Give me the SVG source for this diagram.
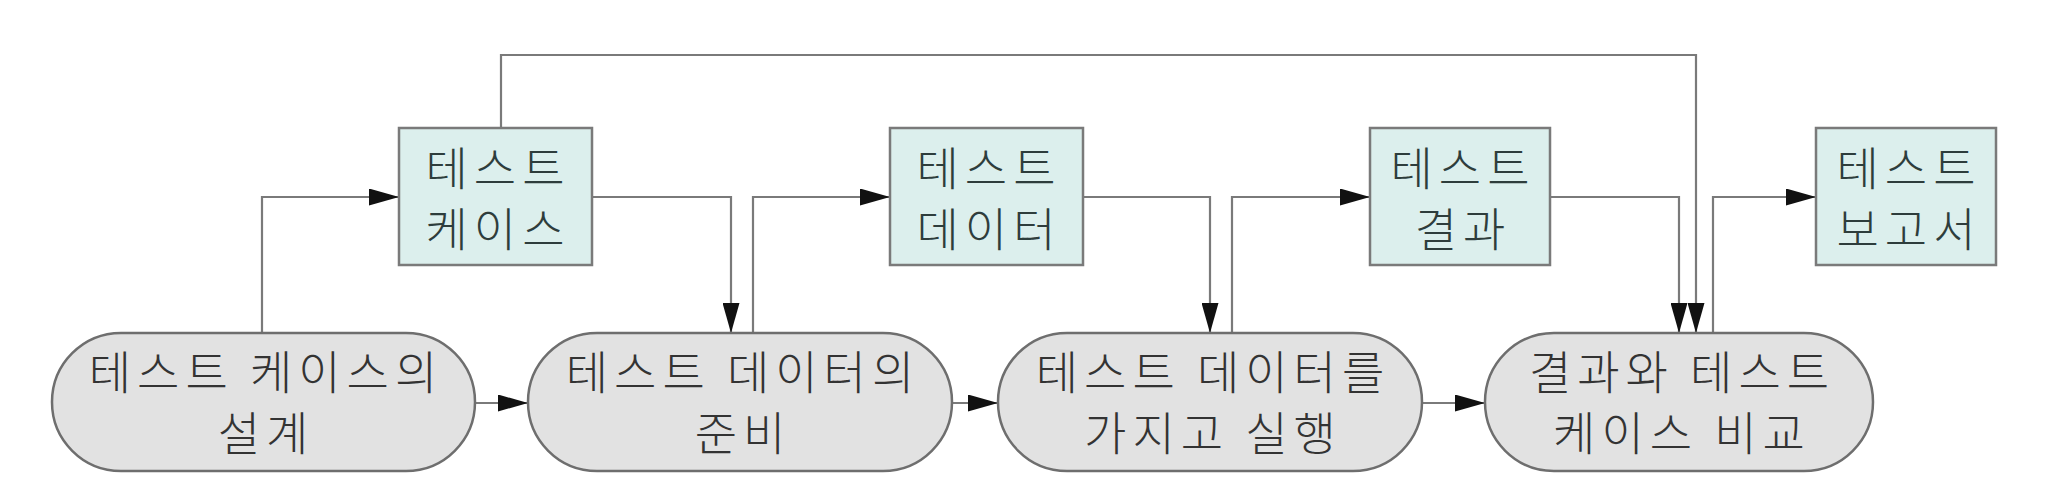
<svg xmlns="http://www.w3.org/2000/svg" width="2048" height="485" viewBox="0 0 2048 485">
<defs>
<style>
.box{fill:#dcefed;stroke:#7a7a7a;stroke-width:2.5}
.pill{fill:#e2e2e2;stroke:#6e6e6e;stroke-width:2.5}
.t{font-family:"Noto Sans CJK KR","Noto Sans",sans-serif;font-size:46px;font-weight:300;text-anchor:middle;letter-spacing:6px}
.bt{fill:#2e3d3c}
.pt{fill:#333333}
.conn path{fill:none;stroke:#7a7a7a;stroke-width:2.2;marker-end:url(#ah)}
</style>
<marker id="ah" markerUnits="userSpaceOnUse" markerWidth="30" markerHeight="17" refX="30" refY="8.5" orient="auto">
<path d="M0,0 L30,8.5 L0,17 z" fill="#111111"/>
</marker>
</defs>
<rect width="2048" height="485" fill="#ffffff"/>
<g class="conn" id="connectors">
<path d="M262,333 V197 H399"/>
<path d="M592,197 H731 V333"/>
<path d="M753,333 V197 H890"/>
<path d="M1083,197 H1210 V333"/>
<path d="M1232,333 V197 H1370"/>
<path d="M1550,197 H1679 V333"/>
<path d="M501,128 V55 H1696 V333"/>
<path d="M1713,333 V197 H1816"/>
<path d="M475,403 H528"/>
<path d="M952,403 H998"/>
<path d="M1422,403 H1485"/>
</g>
<g id="box-testcase">
<rect class="box" x="399" y="128" width="193" height="137"/>
<text class="t bt"><tspan x="498" y="185">테스트</tspan><tspan x="498" y="246">케이스</tspan></text>
</g>
<g id="box-testdata">
<rect class="box" x="890" y="128" width="193" height="137"/>
<text class="t bt"><tspan x="989" y="185">테스트</tspan><tspan x="989" y="246">데이터</tspan></text>
</g>
<g id="box-testresult">
<rect class="box" x="1370" y="128" width="180" height="137"/>
<text class="t bt"><tspan x="1463" y="185">테스트</tspan><tspan x="1463" y="246">결과</tspan></text>
</g>
<g id="box-testreport">
<rect class="box" x="1816" y="128" width="180" height="137"/>
<text class="t bt"><tspan x="1909" y="185">테스트</tspan><tspan x="1909" y="246">보고서</tspan></text>
</g>
<g id="pill-design">
<rect class="pill" x="52" y="333" width="423" height="138" rx="69" ry="69"/>
<text class="t pt"><tspan x="266" y="389">테스트 케이스의</tspan><tspan x="266" y="450">설계</tspan></text>
</g>
<g id="pill-prepare">
<rect class="pill" x="528" y="333" width="424" height="138" rx="69" ry="69"/>
<text class="t pt"><tspan x="743" y="389">테스트 데이터의</tspan><tspan x="743" y="450">준비</tspan></text>
</g>
<g id="pill-execute">
<rect class="pill" x="998" y="333" width="424" height="138" rx="69" ry="69"/>
<text class="t pt"><tspan x="1213" y="389">테스트 데이터를</tspan><tspan x="1213" y="450">가지고 실행</tspan></text>
</g>
<g id="pill-compare">
<rect class="pill" x="1485" y="333" width="388" height="138" rx="69" ry="69"/>
<text class="t pt"><tspan x="1682" y="389">결과와 테스트</tspan><tspan x="1682" y="450">케이스 비교</tspan></text>
</g>
</svg>
